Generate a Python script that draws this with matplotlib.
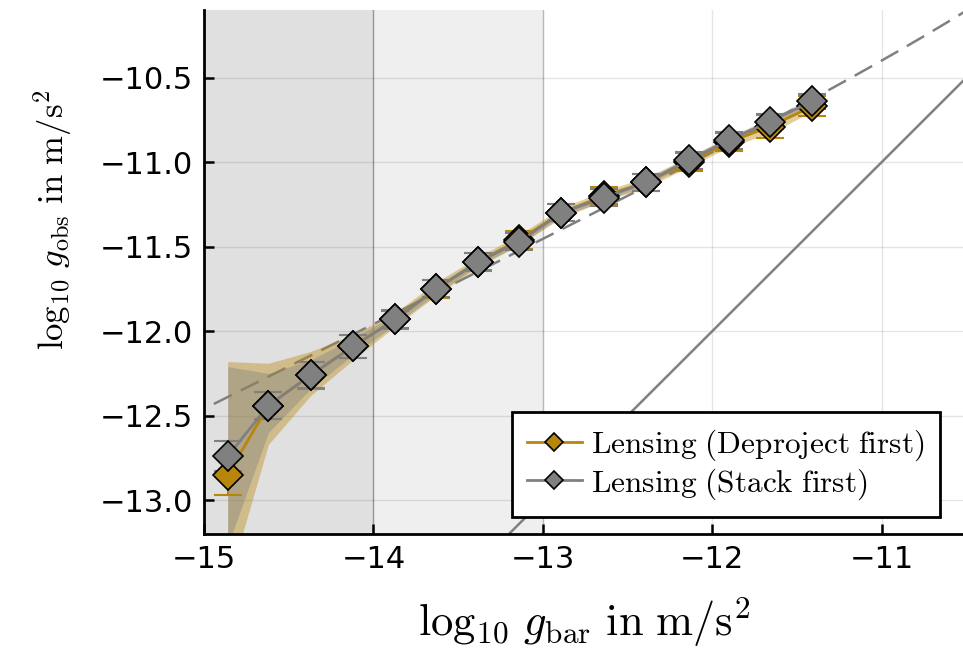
import numpy as np
import matplotlib
matplotlib.use("Agg")
import matplotlib.pyplot as plt

plt.rcParams['mathtext.fontset'] = 'cm'
plt.rcParams['font.family'] = ['DejaVu Sans']

# ---- data ----
log_gbar = [-14.86, -14.62, -14.37, -14.12, -13.87, -13.63, -13.38, -13.14,
            -12.89, -12.64, -12.39, -12.14, -11.90, -11.66, -11.41]
stack_y = [-12.74, -12.44, -12.26, -12.09, -11.93, -11.75, -11.59, -11.47,
           -11.30, -11.21, -11.12, -10.99, -10.87, -10.76, -10.64]
stack_err = [0.09, 0.08, 0.077, 0.07, 0.05, 0.05, 0.05, 0.05,
             0.05, 0.05, 0.05, 0.05, 0.05, 0.045, 0.045]
stack_lo = [-13.27, -12.60, -12.34, -12.14, -11.96, -11.78, -11.61, -11.49,
            -11.32, -11.23, -11.14, -11.01, -10.89, -10.79, -10.66]
stack_hi = [-12.21, -12.25, -12.17, -12.04, -11.90, -11.73, -11.57, -11.45,
            -11.28, -11.19, -11.10, -10.97, -10.85, -10.74, -10.62]
deproj_y = [-12.85, -12.44, -12.26, -12.09, -11.93, -11.75, -11.59, -11.46,
            -11.30, -11.20, -11.12, -11.00, -10.88, -10.79, -10.67]
deproj_err = [0.12, 0.08, 0.08, 0.07, 0.055, 0.055, 0.055, 0.055,
              0.05, 0.05, 0.05, 0.055, 0.055, 0.07, 0.06]
deproj_lo = [-13.50, -12.67, -12.38, -12.17, -11.97, -11.79, -11.62, -11.49,
             -11.33, -11.23, -11.15, -11.03, -10.91, -10.83, -10.70]
deproj_hi = [-12.18, -12.19, -12.12, -12.02, -11.89, -11.71, -11.56, -11.43,
             -11.27, -11.17, -11.09, -10.97, -10.85, -10.75, -10.63]
a0 = 1.2e-10
xticks = [-15, -14, -13, -12, -11]
yticks = [-13.0, -12.5, -12.0, -11.5, -11.0, -10.5]
xlim = (-15.0, -10.52)
ylim = (-13.2, -10.1)

gold = '#B8860B'
grey = '#808080'

fig = plt.figure(figsize=(9.63, 6.55), dpi=100)
ax = fig.add_axes([204/963, 121/655, 759/963, 524/655])

# shaded regions
ax.axvspan(xlim[0] - 1, -14, color='#e0e0e0', lw=0, zorder=0)
ax.axvspan(-14, -13, color='#efefef', lw=0, zorder=0)
ax.axvline(-14, color='#a8a8a8', lw=1, zorder=0.5)
ax.axvline(-13, color='#cccccc', lw=1, zorder=0.5)

ax.grid(True, color='#000000', alpha=0.1, lw=1, zorder=0.4)
ax.set_axisbelow(True)

# theory lines
xx = np.linspace(xlim[0] - 0.1, xlim[1] + 0.1, 400)
gb = 10.0 ** xx
gobs = gb / (1 - np.exp(-np.sqrt(gb / a0)))
ax.plot(xx, np.log10(gobs), color=grey, lw=1.8, ls=(0, (8, 4)), zorder=1)
ax.plot(xx, xx, color=grey, lw=1.8, zorder=1)

# bands
ax.fill_between(log_gbar, deproj_lo, deproj_hi, color=gold, alpha=0.4, lw=0, zorder=2)
ax.fill_between(log_gbar, stack_lo, stack_hi, color=grey, alpha=0.4, lw=0, zorder=2.1)

# series
ax.errorbar(log_gbar, deproj_y, yerr=deproj_err, fmt='none', ecolor=gold,
            elinewidth=1.5, capsize=10, capthick=1.5, zorder=3)
ax.errorbar(log_gbar, stack_y, yerr=stack_err, fmt='none', ecolor=grey,
            elinewidth=1.5, capsize=10, capthick=1.5, zorder=3.1)
ax.plot(log_gbar, deproj_y, color=gold, lw=2, marker='D', ms=15,
        mfc=gold, mec='black', mew=1.2, zorder=4,
        label=r'$\mathrm{Lensing\ (Deproject\ first)}$')
ax.plot(log_gbar, stack_y, color=grey, lw=2, marker='D', ms=15,
        mfc=grey, mec='black', mew=1.2, zorder=4.1,
        label=r'$\mathrm{Lensing\ (Stack\ first)}$')

ax.set_xlim(*xlim)
ax.set_ylim(*ylim)
ax.set_xticks(xticks)
ax.set_yticks(yticks)
ax.set_xticklabels([f'\u2212{abs(v):d}' for v in xticks])
ax.set_yticklabels([f'\u2212{abs(v):.1f}' for v in yticks])
ax.tick_params(direction='in', length=7, width=1.8, labelsize=22, pad=8)
for s in ['top', 'right']:
    ax.spines[s].set_visible(False)
for s in ['left', 'bottom']:
    ax.spines[s].set_linewidth(2)

leg = ax.legend(loc='lower right', bbox_to_anchor=(0.97, 0.032), fontsize=22.5,
                frameon=True, fancybox=False, edgecolor='black', framealpha=1,
                handlelength=1.75, handletextpad=0.3, borderpad=0.5, labelspacing=0.1,
                borderaxespad=0, markerscale=0.6)
leg.get_frame().set_linewidth(2)
leg.set_zorder(10)

fig.text(584/963, 1 - 622/655, r'$\log_{10}\, g_{\mathrm{bar}}\ \mathrm{in}\ {\mathrm{m}/\mathrm{s}}^{2}$',
         fontsize=32, ha='center', va='center')
fig.text(53/963, 1 - 220/655, r'$\log_{10}\, g_{\mathrm{obs}}\ \mathrm{in}\ {\mathrm{m}/\mathrm{s}}^{2}$',
         fontsize=25, ha='center', va='center', rotation=90)

fig.savefig('out.png', dpi=100)
